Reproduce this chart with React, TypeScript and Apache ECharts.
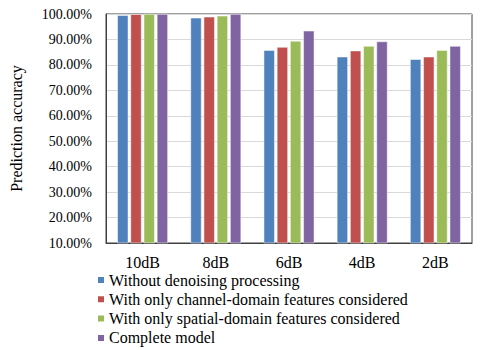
import React, { useEffect, useRef } from "react";
import * as echarts from "echarts";

const categories = ["10dB", "8dB", "6dB", "4dB", "2dB"];
const seriesNames = [
  "Without denoising processing",
  "With only channel-domain features considered",
  "With only spatial-domain features considered",
  "Complete model",
];
const withoutDenoising = [99.5, 98.5, 85.8, 83.2, 82.2];
const channelOnly = [99.9, 98.9, 87.0, 85.6, 83.2];
const spatialOnly = [100, 99.3, 89.4, 87.4, 85.8];
const completeModel = [100, 100, 93.4, 89.2, 87.4];
const colors = ["#4F81BD", "#C0504D", "#9BBB59", "#8064A2"];

const FONT = "'Liberation Serif', 'Times New Roman', serif";

export default function App() {
  const ref = useRef<HTMLDivElement>(null);
  useEffect(() => {
    if (!ref.current) return;
    const chart = echarts.init(ref.current, undefined, { renderer: "svg" });
    const data = [withoutDenoising, channelOnly, spatialOnly, completeModel];
    chart.setOption({
      animation: false,
      textStyle: { fontFamily: FONT },
      grid: {
        left: 97,
        right: 8,
        top: 14,
        bottom: 107,
        show: true,
        borderColor: "#404040",
        borderWidth: 1,
      },
      legend: {
        orient: "vertical",
        left: 96,
        top: 272,
        padding: 0,
        itemWidth: 8,
        itemHeight: 8,
        itemGap: 3.3,
        icon: "rect",
        textStyle: { fontFamily: FONT, fontSize: 16, lineHeight: 16, color: "#000", padding: [0, 0, 0, -1] },
        data: seriesNames,
      },
      xAxis: {
        type: "category",
        data: categories,
        axisLine: { lineStyle: { color: "#404040" } },
        axisTick: { show: false },
        axisLabel: { fontFamily: FONT, fontSize: 16, color: "#000", margin: 11 },
      },
      yAxis: {
        type: "value",
        min: 10,
        max: 100,
        interval: 10,
        name: "Prediction accuracy",
        nameLocation: "middle",
        nameGap: 82,
        nameTextStyle: { fontFamily: FONT, fontSize: 16, color: "#000" },
        axisLine: { show: true, lineStyle: { color: "#404040" } },
        axisTick: { show: false },
        splitLine: { lineStyle: { color: "#D9D9D9" } },
        axisLabel: {
          fontFamily: FONT,
          fontSize: 14,
          color: "#000",
          margin: 14,
          formatter: (v: number) => v.toFixed(2) + "%",
        },
      },
      series: seriesNames.map((name, i) => ({
        name,
        type: "bar",
        data: data[i],
        barWidth: 11,
        barGap: "20%",
        itemStyle: { color: colors[i], borderColor: "#fff", borderWidth: 0.5 },
      })),
    });
    return () => chart.dispose();
  }, []);
  return <div ref={ref} style={{ width: 480, height: 350, position: "absolute", left: 0, top: 0 }} />;
}
